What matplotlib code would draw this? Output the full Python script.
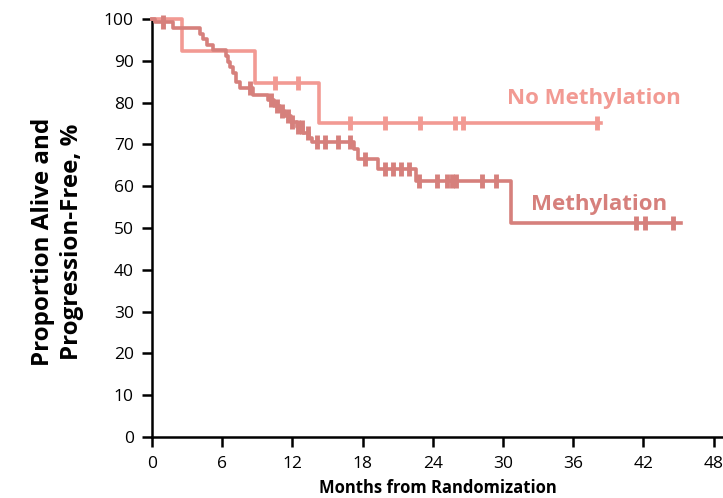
import numpy as np
import matplotlib
matplotlib.use("Agg")
import matplotlib.pyplot as plt

plt.rcParams["font.family"] = ["Open Sans", "DejaVu Sans"]

# Kaplan-Meier steps (months, % alive and progression-free)
meth_times = [0.3, 1.8, 4.1, 4.4, 4.7, 5.2, 6.3, 6.5, 6.7, 6.9, 7.2, 7.5, 8.6, 9.9,
              10.4, 10.9, 11.4, 11.9, 12.4, 12.9, 13.4, 13.7, 17.3, 17.6, 19.3, 22.6, 30.7]
meth_surv = [99.3, 97.8, 96.4, 95.1, 93.8, 92.6, 91.2, 89.8, 88.5, 87.0, 85.0, 83.5, 81.8, 80.6,
             79.3, 78.0, 76.7, 75.4, 74.1, 72.8, 71.6, 70.6, 68.8, 66.5, 64.0, 61.3, 51.2]
meth_censor = [0.9, 8.4, 10.2, 10.7, 11.1, 11.6, 12.0, 12.5, 12.8, 13.3, 14.1, 14.8, 15.9,
               16.9, 18.2, 19.9, 20.6, 21.3, 22.0, 22.8, 24.4, 25.2, 25.6, 26.0, 28.2, 29.4,
               41.4, 42.1, 44.5]
meth_end = 45.2

nometh_times = [2.6, 8.8, 14.3]
nometh_surv = [92.3, 84.6, 75.2]
nometh_censor = [10.5, 12.5, 16.9, 19.9, 22.9, 25.9, 26.6, 38.0]
nometh_end = 38.4

x_ticks = [0, 6, 12, 18, 24, 30, 36, 42, 48]
y_ticks = [0, 10, 20, 30, 40, 50, 60, 70, 80, 90, 100]

c_meth = "#d6807c"
c_nometh = "#f29a93"


def km_curve(ax, times, surv, censor, end, color):
    xs = np.array([0] + times + [end])
    ys = np.array([100] + surv + [surv[-1]])
    ax.step(xs, ys, where="post", color=color, lw=2.6, clip_on=False, zorder=3)
    idx = np.searchsorted(xs, censor, side="right") - 1
    ax.plot(censor, ys[idx], ls="none", marker="|", ms=10, mew=3.5,
            color=color, clip_on=False, zorder=3)


fig = plt.figure(figsize=(7.23, 4.98), dpi=100)
ax = fig.add_axes([0.2102, 0.1225, 0.7898, 0.8394])

km_curve(ax, nometh_times, nometh_surv, nometh_censor, nometh_end, c_nometh)
km_curve(ax, meth_times, meth_surv, meth_censor, meth_end, c_meth)

ax.set_xlim(0, 48.8)
ax.set_ylim(0, 100)
ax.set_xticks(x_ticks)
ax.set_yticks(y_ticks)
ax.spines["top"].set_visible(False)
ax.spines["right"].set_visible(False)
for s in ("left", "bottom"):
    ax.spines[s].set_linewidth(1.8)
ax.tick_params(width=1.8, length=7, labelsize=12.5, direction="out")
ax.tick_params(axis="x", pad=7)
ax.tick_params(axis="y", pad=6)

ax.set_xlabel("Months from Randomization", fontsize=12, fontweight="bold", labelpad=5)
fig.text(0.0795, 0.514, "Proportion Alive and\nProgression-Free, %", fontsize=17.4,
         fontweight="bold", rotation=90, ha="center", va="center", linespacing=1.3)

ax.text(37.8, 80.9, "No Methylation", color=c_nometh, fontsize=16,
        fontweight="bold", ha="center", va="center")
ax.text(38.2, 55.5, "Methylation", color=c_meth, fontsize=16,
        fontweight="bold", ha="center", va="center")

fig.savefig("out.png", dpi=100)
